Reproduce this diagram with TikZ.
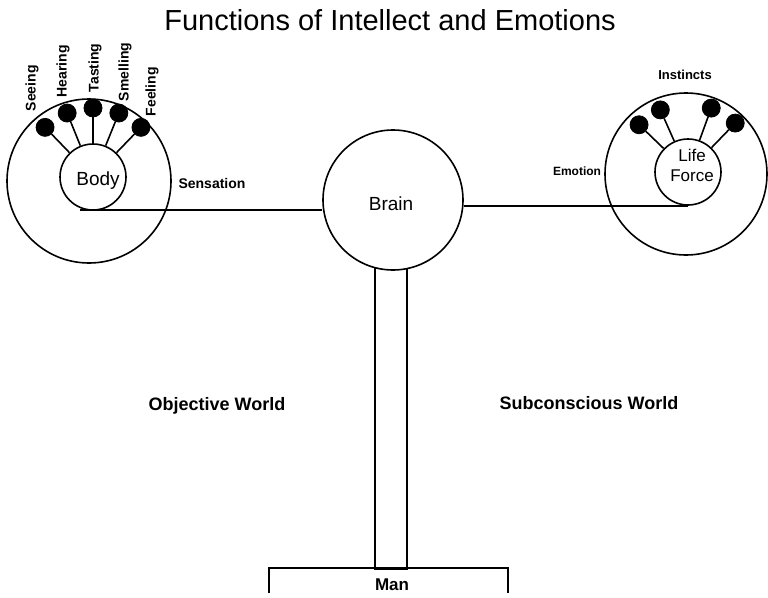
\documentclass[tikz,border=0pt]{standalone}
\usepackage{fontspec}
\setmainfont{Liberation Sans}
\usetikzlibrary{calc}
\begin{document}
\begin{tikzpicture}[x=1pt,y=-1pt,line width=1.6pt,
  ring/.style={draw,circle,inner sep=0pt},
  knob/.style={circle,fill=black,draw=black,line width=0.8pt,inner sep=0pt,minimum size=18pt},
  lbl/.style={font=\bfseries\fontsize{14}{16}\selectfont,inner sep=0pt},
  sense/.style={lbl,rotate=90,anchor=west},
  big/.style={font=\fontsize{19}{17}\selectfont,inner sep=0pt},
]
\useasboundingbox (0,0) rectangle (768,597);

% title
\node[font=\fontsize{29}{34}\selectfont,anchor=base,inner sep=0pt] (title) at (390,30) {Functions of Intellect and Emotions};

% stem and base
\node[draw,minimum width=32pt,minimum height=319pt,inner sep=0pt] (stem) at (391,409.5) {};
\node[minimum width=237pt,minimum height=23pt,inner sep=0pt] (man) at (388.5,580.5) {};
\draw (man.south west) -- (man.north west) -- (man.north east) -- (man.south east);
\node[font=\bfseries\fontsize{17}{17}\selectfont,inner sep=0pt,anchor=base] (mantxt) at (392,590) {Man};

% brain
\node[ring,fill=white,minimum size=140pt] (brain) at (393,200) {};
\node[big,anchor=base] (braintxt) at (391,210) {Brain};

% body side
\node[ring,minimum size=164pt] (bodyout) at (89,181) {};
\node[ring,minimum size=66pt] (bodyin) at (93,177) {};
\node[big,anchor=base] (bodytxt) at (98,185) {Body};
\foreach \a [count=\i] in {134,112,90,68,46}{
  \node[knob] (bk\i) at ($(bodyin.center)+(\a:69pt)$) {};
  \draw (bodyin.\a) -- (bk\i);
}
\node[sense] (seeing) at (32,112) {Seeing};
\node[sense] (hearing) at (63,98) {Hearing};
\node[sense] (tasting) at (95,93) {Tasting};
\node[sense] (smelling) at (125,102) {Smelling};
\node[sense] (feeling) at (152,117) {Feeling};
\node[lbl,anchor=base] (sensation) at (212,188) {Sensation};
\coordinate (sensestart) at (80,210);
\draw (sensestart) -- (sensestart -| brain.west);

% life force side
\node[ring,minimum size=162pt] (lifeout) at (686,174) {};
\node[ring,minimum size=66pt] (lifein) at (688,172) {};
\node[font=\fontsize{17}{20}\selectfont,inner sep=0pt,align=center] (lifetxt) at (692,165) {Life\\Force};
\foreach \a [count=\i] in {136,114,70,46}{
  \node[knob] (lk\i) at ($(lifein.center)+(\a:68pt)$) {};
  \draw (lifein.\a) -- (lk\i);
}
\node[lbl,font=\bfseries\fontsize{13}{15}\selectfont,anchor=base] (instincts) at (685,79) {Instincts};
\node[lbl,font=\bfseries\fontsize{12}{14}\selectfont,anchor=base] (emotion) at (577,175) {Emotion};
\draw (brain.east |- lifein.south) -- (lifein.south);

% worlds
\node[lbl,font=\bfseries\fontsize{18}{20}\selectfont,anchor=base] (objective) at (217,410) {Objective World};
\node[lbl,font=\bfseries\fontsize{18}{20}\selectfont,anchor=base] (subconscious) at (589,409) {Subconscious World};
\end{tikzpicture}
\end{document}
